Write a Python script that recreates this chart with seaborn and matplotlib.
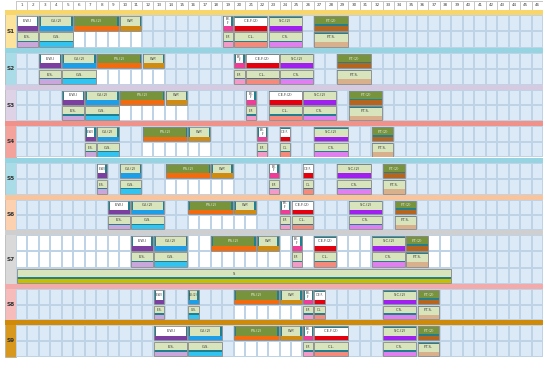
import numpy as np
import matplotlib
matplotlib.use("Agg")
import matplotlib.pyplot as plt
from matplotlib.colors import ListedColormap
import seaborn as sns

# ---- data (column numbers are 1-based, inclusive) ----
sections = ["S1", "S2", "S3", "S4", "S5", "S6", "S7", "S8", "S9"]
columns = list(range(1, 47))

ewi = [(1, 2), (3, 4), (5, 6), (7, 7), (8, 8), (9, 10), (11, 12), (13, 13), (13, 15)]
gi = [(3, 5), (5, 7), (7, 9), (8, 9), (10, 11), (11, 13), (13, 15), (16, 16), (16, 18)]
ps = [(6, 9), (8, 11), (10, 13), (12, 15), (14, 17), (16, 19), (18, 21), (20, 23), (20, 23)]
wp = [(10, 11), (12, 13), (14, 15), (16, 17), (18, 19), (20, 21), (22, 23), (24, 25), (24, 25)]
pef = [(19, 19), (20, 20), (21, 21), (22, 22), (23, 23), (24, 24), (25, 25), (26, 26), (26, 26)]
cef = [(20, 22), (21, 23), (23, 25), (24, 24), (26, 26), (25, 26), (27, 28), (27, 27), (27, 29)]
sc = [(23, 25), (24, 26), (26, 28), (27, 29), (29, 31), (30, 32), (32, 34), (33, 35), (33, 35)]
ft = [(27, 29), (29, 31), (30, 32), (32, 33), (33, 34), (34, 35), (35, 36), (36, 37), (36, 37)]

s7_long = (1, 38)
s7_long_label = "S"

# ---- style ----
sns.set_theme(style="white")
plt.rcParams["font.family"] = ["DejaVu Sans"]

W, H = 550, 365
GX0, GX1, LX0 = 16, 543, 5
strip_tops = [10, 47.5, 84.5, 121, 157.5, 194.5, 230, 284, 320]
grid_end = 357
STRIP_H = 5

BLUE = "#dbeaf6"
GRID = "#bed3e5"
LGREEN = "#d8e4bc"
DGREEN = "#77933c"
TEAL = "#21808f"
EDGE = "#8a8a8a"

label_bg = ["#fde49c", "#a9dce7", "#ddd2e6", "#f3a39c", "#a9dce7",
            "#fcd1b0", "#d9d9d9", "#f6bcbc", "#d8981d"]
strip_col = ["#f9d66b", "#96d4e1", "#d6cae1", "#f0928a", "#96d4e1",
             "#f9c39b", "#cfcfcf", "#f2aaaa", "#cf8a0a"]

# phase spans, row, fill, bar colour, accent, label, text colour
phases = [
    (ewi, 0, "white", "#7b3fa0", "sides", "E.W.I", "#333333"),
    (gi, 0, LGREEN, "#1f9ee8", "sides", "G.I.(2)", "#333333"),
    (ps, 0, DGREEN, "#f26b0f", "sides", "P.S.(2)", "#eeeeee"),
    (wp, 0, LGREEN, "#d08c12", "sides", "W.P.", "#333333"),
    (pef, 0, "white", "#ee3d96", "sides", "P.E.\nF.", "#333333"),
    (cef, 0, "white", "#e3000f", "top", "C.E.F.(2)", "#333333"),
    (sc, 0, LGREEN, "#a020f0", "top", "S.C.(2)", "#333333"),
    (ft, 0, DGREEN, "#b5651d", "line", "F.T.(2)", "#eeeeee"),
    (ewi, 1, LGREEN, "#c9a6dc", "line", "E.S.", "#333333"),
    (gi, 1, LGREEN, "#33c3f0", "line", "G.S.", "#333333"),
    (pef, 1, LGREEN, "#f49ac9", "line", "E.F.", "#333333"),
    (cef, 1, LGREEN, "#f58a7c", "line", "C.L.", "#333333"),
    (sc, 1, LGREEN, "#e07ff0", "line", "C.S.", "#333333"),
    (ft, 1, LGREEN, "#d9b08c", "top", "F.T.S.", "#333333"),
]


def draw_task(ax, row, start, end, fill, bar, accent, text, tcolor):
    left = start - 1 + 0.05
    width = end - start + 1 - 0.1
    top, bot = row + 0.07, row + 0.96
    hb = 0.28
    ax.barh((top + bot) / 2, width, left=left, height=bot - top, color=fill,
            linewidth=0, zorder=3)
    ax.barh(bot - hb / 2, width, left=left, height=hb, color=bar,
            linewidth=0, zorder=4)
    if accent == "sides":
        hs = bot - hb - top
        ax.barh(top + hs / 2, 0.14, left=left, height=hs, color=TEAL,
                linewidth=0, zorder=5)
        ax.barh(top + hs / 2, 0.14, left=left + width - 0.14, height=hs,
                color=TEAL, linewidth=0, zorder=5)
    elif accent == "top":
        ax.barh(top + 0.05, width, left=left, height=0.1, color=TEAL,
                linewidth=0, zorder=5)
    else:
        ax.barh(bot - hb - 0.05, width, left=left, height=0.1, color=TEAL,
                linewidth=0, zorder=5)
    ax.barh((top + bot) / 2, width, left=left, height=bot - top, fill=False,
            edgecolor=EDGE, linewidth=0.6, zorder=6)
    fs = 2.6 if end > start else 2.1
    if end == start and text.startswith("C.E.F"):
        text = "C.E.F."
    if end > start and text.startswith("P.E."):
        text = "P.E.F."
    ax.text(left + width / 2, (top + bot - hb) / 2, text, ha="center",
            va="center", fontsize=fs, color=tcolor, zorder=7,
            linespacing=0.9)


fig = plt.figure(figsize=(W / 100, H / 100), dpi=100)

# background: strips and section labels (pixel units)
bg = fig.add_axes([0, 0, 1, 1])
bg.set_xlim(0, W)
bg.set_ylim(H, 0)
bg.axis("off")
bounds = strip_tops + [grid_end]
for i, name in enumerate(sections):
    y0, y1 = bounds[i], bounds[i + 1]
    bg.barh((y0 + y1) / 2, GX0 - LX0, left=LX0, height=y1 - y0,
            color=label_bg[i], edgecolor="#a0a0a0", linewidth=0.4)
    bg.barh(y0 + STRIP_H / 2, GX1 - LX0, left=LX0, height=STRIP_H,
            color=strip_col[i], linewidth=0)
    bg.text((LX0 + GX0) / 2, (y0 + STRIP_H + y1) / 2, name, ha="center",
            va="center", fontsize=4.2, fontweight="bold", color="#333333")

# header with column numbers
hax = fig.add_axes([GX0 / W, 1 - strip_tops[0] / H, (GX1 - GX0) / W,
                    (strip_tops[0] - 1) / H])
sns.heatmap(np.zeros((1, len(columns))), ax=hax,
            annot=np.array([[str(c) for c in columns]]), fmt="",
            cmap=ListedColormap(["white"]), cbar=False, linewidths=0.4,
            linecolor="#c8c8c8", xticklabels=False, yticklabels=False,
            annot_kws={"fontsize": 3.0, "color": "#444444"})
hax.axis("off")

# sections
for i, name in enumerate(sections):
    y_top = strip_tops[i] + STRIP_H
    y_bot = bounds[i + 1]
    nrows = 3 if name == "S7" else 2
    cells = np.zeros((nrows, len(columns)))
    if name == "S7":
        cells[0:2, 0:s7_long[1]] = 1
    else:
        cells[1, ps[i][0] - 1:wp[i][1]] = 1
    ax = fig.add_axes([GX0 / W, 1 - y_bot / H, (GX1 - GX0) / W,
                       (y_bot - y_top) / H])
    sns.heatmap(cells, ax=ax, cmap=ListedColormap([BLUE, "white"]),
                vmin=0, vmax=1, cbar=False, linewidths=0.35, linecolor=GRID,
                xticklabels=False, yticklabels=False)
    for spans, row, fill, bar, accent, text, tcolor in phases:
        s, e = spans[i]
        draw_task(ax, row, s, e, fill, bar, accent, text, tcolor)
    if name == "S7":
        draw_task(ax, 2, s7_long[0], s7_long[1], LGREEN, "#c8be00", "line",
                  s7_long_label, "#333333")
    ax.set_xlim(0, len(columns))
    ax.set_ylim(nrows, 0)
    ax.axis("off")

fig.savefig("out.png", dpi=100)
